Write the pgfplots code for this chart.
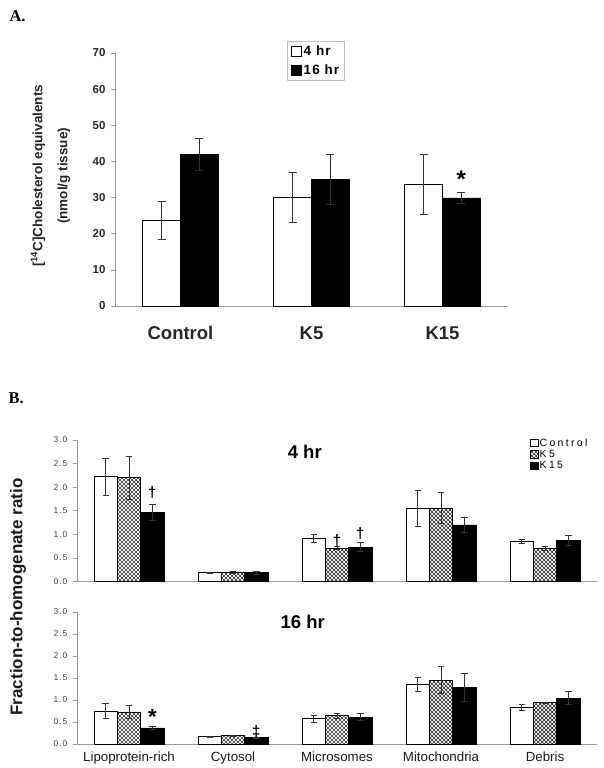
\documentclass[border=0pt]{standalone}
\usepackage{pgfplots}
\pgfplotsset{compat=1.18}
\usepackage{fontspec}
\setmainfont{Liberation Sans}
\newfontfamily\timesfont{Liberation Serif}
\newfontfamily\spacedfont[LetterSpace=12]{Liberation Sans}
\newfontfamily\legfont[LetterSpace=22]{Liberation Sans}
\newfontfamily\legAfont[LetterSpace=8]{Liberation Sans}
\usetikzlibrary{patterns.meta}
\tikzdeclarepattern{
  name=xhatch,
  type=uncolored,
  bounding box={(-0.5pt,-0.5pt) and (4.5pt,4.5pt)},
  tile size={(4pt,4pt)},
  code={
    \draw[line width=0.7pt] (0pt,0pt) -- (4pt,4pt);
    \draw[line width=0.7pt] (0pt,4pt) -- (4pt,0pt);
  }
}
\pgfplotsset{
  errA/.style={error bars/.cd, y dir=both, y explicit,
    error bar style={line width=0.8pt, black!80},
    error mark options={rotate=90, mark size=4pt, line width=0.8pt, black!80}},
  errB/.style={error bars/.cd, y dir=both, y explicit,
    error bar style={line width=0.7pt, black!80},
    error mark options={rotate=90, mark size=3.2pt, line width=0.7pt, black!80}},
  panelB/.style={
    anchor=south west, scale only axis, width=520pt,
    xmin=-0.5, xmax=4.5, ymin=0, ymax=3,
    axis lines*=left, axis line style={black!40, line width=0.8pt},
    ytick={0,0.5,...,3.0}, tick align=outside, major tick length=4pt,
    ytick style={black!40, line width=0.6pt},
    xtick={0,1,2,3,4}, xtick style={draw=none},
    /pgf/number format/assume math mode=true,
    yticklabel style={font=\spacedfont\fontsize{8.5}{10}\selectfont, text=black!75, xshift=-2pt,
      /pgf/number format/.cd, fixed, fixed zerofill, precision=1},
    ybar, bar width=23.3pt, clip=false,
    legend image code/.code={\draw[##1] (0pt,-3.8pt) rectangle (8pt,3.8pt);},
  },
}
\begin{document}
\begin{tikzpicture}[x=1pt,y=1pt]
\useasboundingbox (0,0) rectangle (604,768);
\node[anchor=base west, font=\timesfont\bfseries\fontsize{16.5}{18}\selectfont] at (6,746) {A.};
\node[anchor=base west, font=\timesfont\bfseries\fontsize{16.5}{18}\selectfont] at (5,364) {B.};
% Panel A
\begin{axis}[
  at={(115pt,462pt)}, anchor=south west, scale only axis,
  width=393pt, height=253pt,
  xmin=-0.5, xmax=2.5, ymin=0, ymax=70,
  axis lines*=left, axis line style={black!40, line width=0.8pt},
  ytick={0,10,...,70}, tick align=outside, major tick length=4pt,
  ytick style={black!40, line width=0.6pt},
  xtick={0,1,2}, xticklabels={Control,K5,K15}, xtick style={draw=none},
  /pgf/number format/assume math mode=true,
  yticklabel style={font=\bfseries\fontsize{11.5}{13}\selectfont, text=black!85, xshift=-2pt},
  xticklabel style={font=\bfseries\fontsize{18.5}{20}\selectfont, text=black!85, yshift=-13pt},
  ylabel={[\textsuperscript{14}C]Cholesterol equivalents\\(nmol/g tissue)},
  ylabel style={at={(axis description cs:-0.164,0.514)}, anchor=center, align=center,
    font=\bfseries\fontsize{13.5}{25}\selectfont, text=black!85},
  ybar, bar width=37.7pt, clip=false,
  legend image code/.code={\draw[#1] (0pt,-5pt) rectangle (10pt,5pt);},
  legend style={at={(0.4377,1.0486)}, anchor=north west, draw=black!25, line width=0.8pt,
    font=\legAfont\bfseries\fontsize{13.5}{15}\selectfont, inner xsep=4pt, inner ysep=3.5pt, row sep=4pt,
    nodes={inner sep=1.5pt}},
  legend cell align=left,
]
\addplot[bar shift=-18.85pt, fill=white, draw=black, line width=0.8pt, errA]
  coordinates {(0,23.7) +- (0,5.3) (1,30.0) +- (0,7.0) (2,33.7) +- (0,8.3)};
\addlegendentry{4 hr}
\addplot[bar shift=18.85pt, fill=black, draw=black, line width=0.8pt, errA]
  coordinates {(0,42.0) +- (0,4.4) (1,35.1) +- (0,6.9) (2,29.9) +- (0,1.5)};
\addlegendentry{16 hr}
\node[font=\bfseries\fontsize{24}{26}\selectfont] at (axis cs:2.1435,35.0) {*};
\end{axis}
% Panel B top (4 hr)
\begin{axis}[panelB, at={(77pt,186.5pt)}, height=141.5pt,
  xticklabels={},
  legend style={at={(0.865,1.035)}, anchor=north west, draw=none, fill=none,
    font=\legfont\fontsize{10.5}{11}\selectfont, row sep=0pt,
    nodes={inner sep=1pt, text height=7.8pt, text depth=1.6pt}},
  legend cell align=left,
]
\addplot[bar shift=-23.3pt, fill=white, draw=black, line width=0.7pt, errB]
  coordinates {(0,2.22) +- (0,0.40) (1,0.185) +- (0,0.01) (2,0.915) +- (0,0.08) (3,1.55) +- (0,0.39) (4,0.845) +- (0,0.04)};
\addlegendentry{Control}
\addplot[bar shift=0pt, pattern=xhatch, pattern color=black!80, draw=black, line width=0.7pt, errB]
  coordinates {(0,2.20) +- (0,0.45) (1,0.19) +- (0,0.02) (2,0.71) +- (0,0.03) (3,1.56) +- (0,0.33) (4,0.71) +- (0,0.04)};
\addlegendentry{K5}
\addplot[bar shift=23.3pt, fill=black, draw=black, line width=0.7pt, errB]
  coordinates {(0,1.46) +- (0,0.17) (1,0.19) +- (0,0.03) (2,0.73) +- (0,0.09) (3,1.20) +- (0,0.15) (4,0.87) +- (0,0.10)};
\addlegendentry{K15}
\node[font=\bfseries\fontsize{18.5}{20}\selectfont] at (axis cs:1.69,2.75) {4 hr};
\node[font=\bfseries\fontsize{15}{16}\selectfont] at (axis cs:0.224,1.88) {†};
\node[font=\bfseries\fontsize{15}{16}\selectfont] at (axis cs:2.0,0.86) {†};
\node[font=\bfseries\fontsize{15}{16}\selectfont] at (axis cs:2.224,1.01) {†};
\end{axis}
% Panel B bottom (16 hr)
\begin{axis}[panelB, at={(77pt,24pt)}, height=132pt,
  xticklabels={Lipoprotein-rich,Cytosol,Microsomes,Mitochondria,Debris},
  xticklabel style={font=\fontsize{13.3}{15}\selectfont, text=black!90},
]
\addplot[bar shift=-23.3pt, fill=white, draw=black, line width=0.7pt, errB]
  coordinates {(0,0.75) +- (0,0.17) (1,0.17) +- (0,0.01) (2,0.58) +- (0,0.08) (3,1.36) +- (0,0.16) (4,0.83) +- (0,0.07)};
\addplot[bar shift=0pt, pattern=xhatch, pattern color=black!80, draw=black, line width=0.7pt, errB]
  coordinates {(0,0.73) +- (0,0.14) (1,0.19) +- (0,0.01) (2,0.64) +- (0,0.05) (3,1.45) +- (0,0.31) (4,0.94) +- (0,0.01)};
\addplot[bar shift=23.3pt, fill=black, draw=black, line width=0.7pt, errB]
  coordinates {(0,0.365) +- (0,0.04) (1,0.14) +- (0,0.02) (2,0.61) +- (0,0.08) (3,1.29) +- (0,0.31) (4,1.04) +- (0,0.15)};
\node[font=\bfseries\fontsize{18.5}{20}\selectfont] at (axis cs:1.67,2.78) {16 hr};
\node[font=\bfseries\fontsize{22}{24}\selectfont] at (axis cs:0.224,0.62) {*};
\node[font=\bfseries\fontsize{15}{16}\selectfont] at (axis cs:1.224,0.28) {‡};
\end{axis}
\node[rotate=90, font=\bfseries\fontsize{17}{19}\selectfont, text=black!90] at (18,171) {Fraction-to-homogenate ratio};
\end{tikzpicture}
\end{document}
